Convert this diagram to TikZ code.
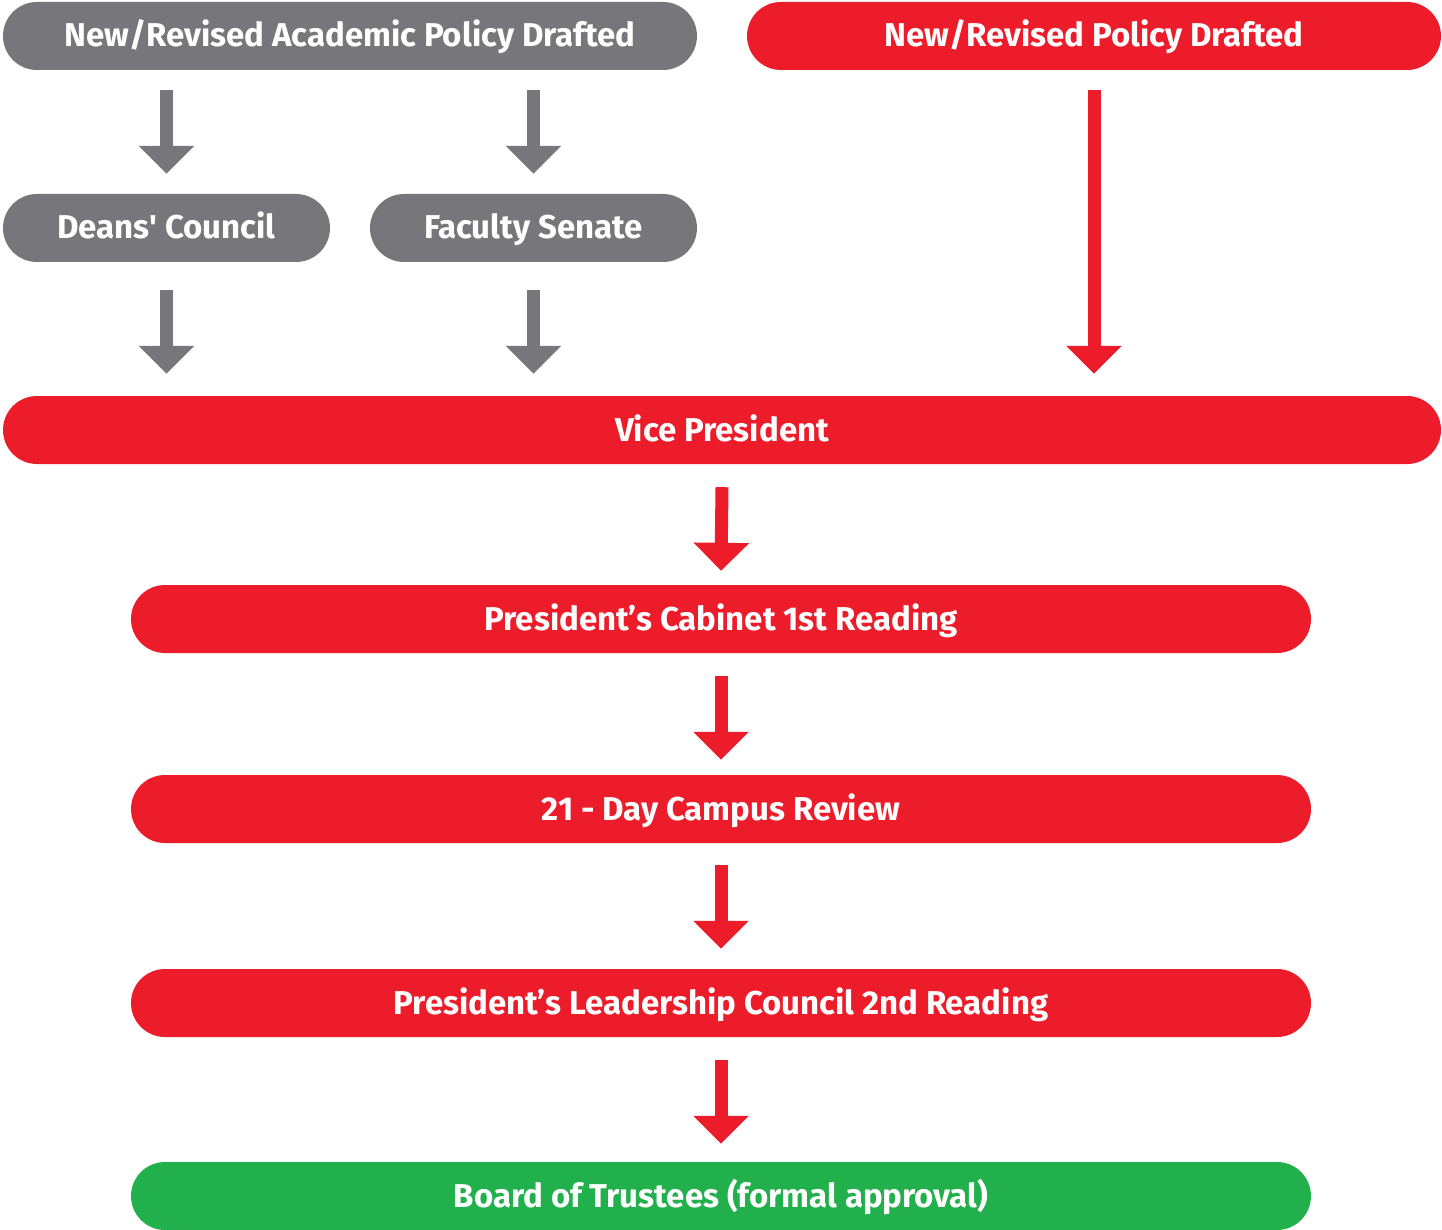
\documentclass[tikz,border=0pt]{standalone}
\usepackage{fontspec}
\setmainfont{Fira Sans}
\newfontfamily\nomapfs{Fira Sans}[Ligatures=TeXOff]
\usetikzlibrary{arrows.meta,calc}
\definecolor{pgray}{HTML}{77777B}
\definecolor{pred}{HTML}{EC1C2A}
\definecolor{pgreen}{HTML}{21B04B}
\begin{document}
\begin{tikzpicture}[x=1pt,y=-1pt,
 pill/.style={rectangle, rounded corners=34pt, minimum height=68pt, inner sep=0pt, text=white, text height=26pt, text depth=4pt, font=\bfseries\fontsize{33}{36}\selectfont},
 gpill/.style={pill, fill=pgray},
 rpill/.style={pill, fill=pred},
 gnpill/.style={pill, fill=pgreen},
 flow/.style={line width=13pt, -{Triangle[width=54pt,length=28pt]}},
 gflow/.style={flow, draw=pgray},
 rflow/.style={flow, draw=pred}]
\useasboundingbox (0,0) rectangle (1442,1230);
\node[gpill, minimum width=694pt] (acad) at (350,36) {New/Revised Academic Policy Drafted};
\node[rpill, minimum width=694pt] (pol) at (1094,36) {New/Revised Policy Drafted};
\node[gpill, minimum width=327pt] (deans) at (166.5,228) {Deans{\nomapfs\bfseries'} Council};
\node[gpill, minimum width=327pt] (sen) at (533.5,228) {Faculty Senate};
\node[rpill, minimum width=1438pt] (vp) at (722,430) {Vice President};
\node[rpill, minimum width=1180pt] (cab) at (721,619) {President’s Cabinet 1st Reading};
\node[rpill, minimum width=1180pt] (rev) at (721,809) {21 - Day Campus Review};
\node[rpill, minimum width=1180pt] (plc) at (721,1003) {President’s Leadership Council 2nd Reading};
\node[gnpill, minimum width=1180pt] (bot) at (721,1196) {Board of Trustees (formal approval)};
\draw[gflow] ($(acad.south -| deans.north)+(0,20)$) -- ($(deans.north)+(0,-20)$);
\draw[gflow] ($(acad.south -| sen.north)+(0,20)$) -- ($(sen.north)+(0,-20)$);
\draw[gflow] ($(deans.south)+(0,28)$) -- ($(vp.north -| deans.south)+(0,-22)$);
\draw[gflow] ($(sen.south)+(0,28)$) -- ($(vp.north -| sen.south)+(0,-22)$);
\draw[rflow] ($(pol.south)+(0,20)$) -- ($(vp.north -| pol.south)+(0,-22)$);
\draw[rflow] ($(vp.south)+(0,23)$) -- ($(cab.north)+(0,-14)$);
\draw[rflow] ($(cab.south)+(0,23)$) -- ($(rev.north)+(0,-15)$);
\draw[rflow] ($(rev.south)+(0,22)$) -- ($(plc.north)+(0,-20)$);
\draw[rflow] ($(plc.south)+(0,23)$) -- ($(bot.north)+(0,-18)$);
\end{tikzpicture}
\end{document}
